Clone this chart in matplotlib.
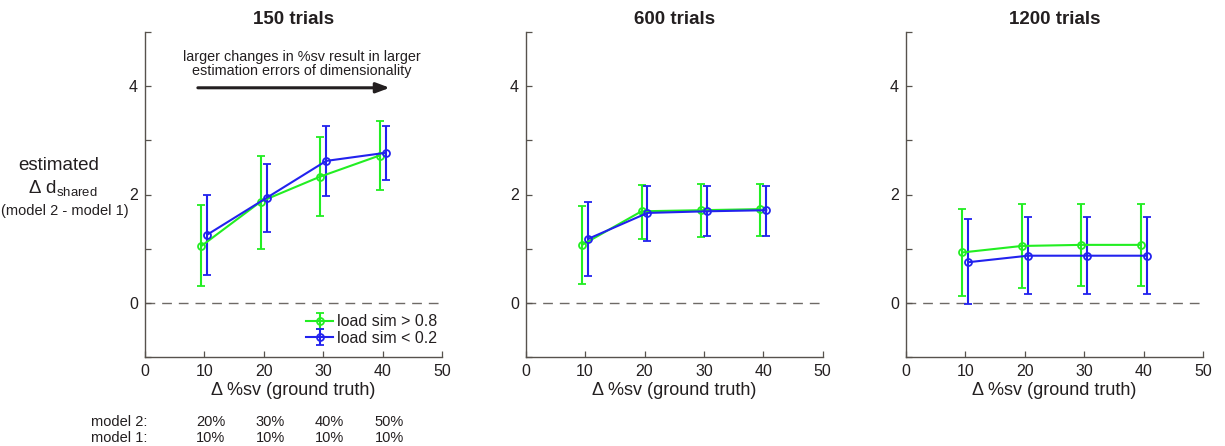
import matplotlib
matplotlib.use("Agg")
import matplotlib.pyplot as plt
import numpy as np

plt.rcParams['font.family'] = ['Liberation Sans', 'DejaVu Sans']
plt.rcParams['mathtext.default'] = 'regular'

titles = ["150 trials", "600 trials", "1200 trials"]
delta_sv = [10, 20, 30, 40]
series_labels = ["load sim > 0.8", "load sim < 0.2"]

# panel -> series -> (mean, upper, lower)
green_mean = [[1.05, 1.87, 2.33, 2.72], [1.07, 1.69, 1.71, 1.73], [0.93, 1.05, 1.07, 1.07]]
green_upper = [[1.80, 2.71, 3.06, 3.35], [1.79, 2.18, 2.19, 2.20], [1.73, 1.83, 1.83, 1.83]]
green_lower = [[0.31, 1.00, 1.61, 2.08], [0.35, 1.18, 1.21, 1.23], [0.12, 0.28, 0.32, 0.32]]
blue_mean = [[1.26, 1.94, 2.62, 2.77], [1.18, 1.66, 1.69, 1.71], [0.75, 0.87, 0.87, 0.87]]
blue_upper = [[2.00, 2.56, 3.27, 3.26], [1.86, 2.15, 2.16, 2.16], [1.55, 1.59, 1.59, 1.59]]
blue_lower = [[0.51, 1.31, 1.97, 2.27], [0.49, 1.15, 1.23, 1.24], [-0.03, 0.17, 0.17, 0.17]]

model2_labels = ["20%", "30%", "40%", "50%"]
model1_labels = ["10%", "10%", "10%", "10%"]

GREEN = "#22ee22"
BLUE = "#2222ee"
AX = "#57524d"
TXT = "#231f20"

W, H = 1225, 446
fig = plt.figure(figsize=(W / 100, H / 100), dpi=100)

lefts = [145, 525.7, 906]
axw, axh = 297, 325
axbottom = 446 - 357

axes = []
for i, lp in enumerate(lefts):
    ax = fig.add_axes([lp / W, axbottom / H, axw / W, axh / H])
    axes.append(ax)
    x = np.array(delta_sv, dtype=float)
    handles = []
    for xs, m, up, lo, col in [
        (x - 0.5, green_mean[i], green_upper[i], green_lower[i], GREEN),
        (x + 0.5, blue_mean[i], blue_upper[i], blue_lower[i], BLUE),
    ]:
        m = np.array(m); up = np.array(up); lo = np.array(lo)
        h = ax.errorbar(xs, m, yerr=[m - lo, up - m], color=col, lw=1.5,
                        marker='o', ms=5, mfc='none', mew=1.3,
                        capsize=2.6, capthick=1.5, elinewidth=1.5, zorder=3)
        handles.append(h)
    ax.axhline(0, color="#6e6a66", lw=1.0, dashes=(7, 5), zorder=1)
    ax.set_xlim(0, 50)
    ax.set_ylim(-1, 5)
    ax.set_xticks([0, 10, 20, 30, 40, 50])
    ax.set_yticks([-1, 0, 1, 2, 3, 4, 5])
    ax.set_yticklabels(["", "0", "", "2", "", "4", ""])
    for s in ["top", "right"]:
        ax.spines[s].set_visible(False)
    for s in ["left", "bottom"]:
        ax.spines[s].set_color(AX)
        ax.spines[s].set_linewidth(1.0)
    ax.tick_params(direction='in', length=4, width=0.9, color=AX,
                   labelsize=11.5, labelcolor=TXT, pad=5)
    ax.set_title(titles[i], fontsize=13.5, fontweight='bold', color=TXT, pad=6)
    ax.set_xlabel("\u0394 %sv (ground truth)", fontsize=13, color=TXT, labelpad=2)
    if i == 0:
        leg = ax.legend(handles, series_labels, loc='lower right',
                        bbox_to_anchor=(1.02, 0.0), frameon=False,
                        fontsize=11.5, handlelength=1.7, handletextpad=0.2,
                        labelspacing=0.1, borderaxespad=0.3)
        for t in leg.get_texts():
            t.set_color(TXT)
        ax.annotate("", xy=(41.2, 3.97), xytext=(8.9, 3.97),
                    arrowprops=dict(arrowstyle="-|>,head_length=0.8,head_width=0.3",
                                    color="#231f20", lw=2.2, shrinkA=0, shrinkB=0))
        ax.text(26.4, 4.41, "larger changes in %sv result in larger\nestimation errors of dimensionality",
                ha='center', va='center', fontsize=10.4, color=TXT, linespacing=1.05)

# y-label block
fig.text(59 / W, 1 - 166 / H, "estimated", ha='center', va='center', fontsize=13.5, color=TXT)
fig.text(63 / W, 1 - 188 / H, "\u0394 d$_{shared}$", ha='center', va='center', fontsize=13.5, color=TXT)
fig.text(65 / W, 1 - 211 / H, "(model 2 - model 1)", ha='center', va='center', fontsize=10.5, color=TXT)

# model percentages under first panel
ax0 = axes[0]
trans = matplotlib.transforms.blended_transform_factory(ax0.transData, fig.transFigure)
for xv, l2, l1 in zip(delta_sv, model2_labels, model1_labels):
    ax0.text(xv + 1.1, 1 - 422 / H, l2, transform=trans, ha='center', va='center', fontsize=10.5, color=TXT)
    ax0.text(xv + 1.1, 1 - 438 / H, l1, transform=trans, ha='center', va='center', fontsize=10.5, color=TXT)
fig.text(147 / W, 1 - 422 / H, "model 2:", ha='right', va='center', fontsize=10.5, color=TXT)
fig.text(147 / W, 1 - 438 / H, "model 1:", ha='right', va='center', fontsize=10.5, color=TXT)

fig.savefig("out.png", dpi=100)
